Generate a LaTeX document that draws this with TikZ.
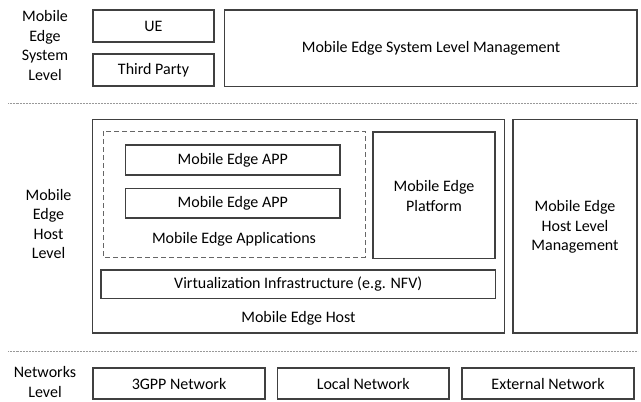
\documentclass[tikz,border=0pt]{standalone}
\usepackage{fontspec}
\setmainfont{Carlito}
\usepackage[x11names]{xcolor}
\usepackage{tikz}
\usetikzlibrary{calc}

\tikzset{
    boxline/.style={draw=black!75, line width=1.1pt},
    applbox/.style={draw=black!60, line width=1pt, dash pattern=on 5pt off 3pt},
    levelsep/.style={draw=black!40, line width=0.8pt, dash pattern=on 0.6pt off 0.9pt},
    lbl/.style={text=black, align=center, inner sep=0pt}
}

\begin{document}
\begin{tikzpicture}[x=1pt, y=-1pt, font=\fontsize{16}{19.5}\selectfont]
        \useasboundingbox (0,0) rectangle (641,402);

        % system level
        \node[lbl] (syslvl) at (45,45.5) {Mobile\\Edge\\System\\Level};

        \draw[boxline] (93,10) rectangle (214,42); \node[lbl] (ue) at
        (153.5,26) {UE};

        \draw[boxline] (93,54) rectangle (214,86); \node[lbl] (third) at
        (153.5,70) {Third Party};

        \draw[boxline] (224.5,10) rectangle (637,86.5); \node[lbl] (sysmgmt) at
        (431,48) {Mobile Edge System Level Management};

        \draw[levelsep] (8,103) -- (638,103);

        % host level
        \node[lbl] (hostlvl) at (48.5,224) {Mobile\\Edge\\Host\\Level};

        \draw[boxline] (92.5,119.5) rectangle (504.5,333); \node[lbl] (host) at
        (298.5,318) {Mobile Edge Host};

        \draw[applbox] (103,131) rectangle (365,257); \node[lbl] (apps) at
        (234,239) {Mobile Edge Applications};

        \draw[boxline] (125.5,145) rectangle (340,175); \node[lbl] (appa) at
        (232.75,160) {Mobile Edge APP};

        \draw[boxline] (125.5,188.5) rectangle (340,218); \node[lbl] (appb) at
        (232.75,203.5) {Mobile Edge APP};

        \draw[boxline] (373,132) rectangle (495,258.5); \node[lbl] (platform)
        at (434,196) {Mobile Edge\\Platform};

        \draw[boxline] (101,270) rectangle (495.5,298.5); \node[lbl] (virt) at
        (298.25,284.5) {Virtualization Infrastructure (e.g. NFV)};

        \draw[boxline] (513,119.5) rectangle (637,333); \node[lbl] (hostmgmt)
        at (575,227) {Mobile Edge\\Host Level\\Management};

        \draw[levelsep] (8,351) -- (638,351);

        % networks level
        \node[lbl] (netlvl) at (45,382) {Networks\\Level};

        \draw[boxline] (93,368) rectangle (265,399); \node[lbl] (gpp) at
        (179,383.5) {3GPP Network};

        \draw[boxline] (277.5,368) rectangle (449,399); \node[lbl] (local) at
        (363.25,383.5) {Local Network};

        \draw[boxline] (462,368) rectangle (634,399); \node[lbl] (external) at
        (548,383.5) {External Network};
\end{tikzpicture}
\end{document}
